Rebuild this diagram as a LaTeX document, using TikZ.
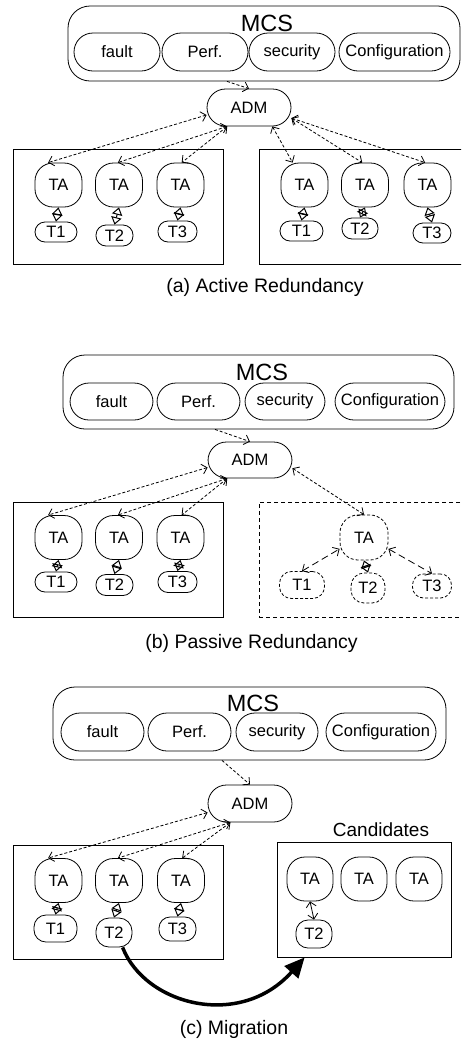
\documentclass[tikz,border=0pt]{standalone}
\usepackage{fontspec}
\setmainfont{Liberation Sans}
\usetikzlibrary{arrows.meta}
\begin{document}
\begin{tikzpicture}[x=1pt,y=-1pt,
  every node/.style={inner sep=0pt, font=\fontsize{16.5}{19}\selectfont},
  cbox/.style={draw, line width=0.8pt},
  mcsbox/.style={draw, line width=0.8pt, rounded corners=22pt},
  mcsfont/.style={font=\fontsize{23.5}{26}\selectfont},
  func/.style={draw, line width=0.8pt, rounded corners=19pt, minimum height=38pt},
  admbox/.style={draw, line width=0.8pt, rounded corners=18.5pt, minimum width=84pt, minimum height=37pt},
  tanode/.style={draw, line width=0.8pt, rounded corners=18pt, minimum width=47pt, minimum height=44pt},
  tknode/.style={draw, line width=0.8pt, rounded corners=10pt},
  dnode/.style={dash pattern=on 3pt off 2pt},
  vtip/.tip={Straight Barb[length=5pt,width=10pt]},
  link/.style={line width=0.8pt, dash pattern=on 3pt off 2pt, vtip-vtip},
  longlink/.style={line width=0.8pt, dash pattern=on 7pt off 4pt, vtip-vtip},
  toadm/.style={line width=0.8pt, dash pattern=on 3pt off 2pt, -vtip},
  dia/.style={line width=1pt, {Triangle[open,length=7.5pt,width=10.5pt]}-{Triangle[open,length=7.5pt,width=10.5pt]}},
  captext/.style={font=\fontsize{19.5}{22}\selectfont}
]
\clip (0,0) rectangle (461,1042);
\fill[white] (0,0) rectangle (461,1042);

% ================= (a) Active Redundancy =================
\node[mcsbox, minimum width=392pt, minimum height=75pt] (mcsA) at (264,43.5) {};
\node[mcsfont] (mcsAt) at (267,23) {MCS};
\node[func, minimum width=86pt] (faultA) at (117,52) {fault};
\node[func, minimum width=86pt] (perfA) at (205,52) {Perf.};
\node[func, minimum width=86pt] (secA) at (292,52) {security};
\node[func, minimum width=111pt] (confA) at (394.5,52) {Configuration};
\node[admbox] (admA) at (249,107.5) {ADM};

\node[cbox, minimum width=210pt, minimum height=115pt] (boxA1) at (118,206.5) {};
\node[cbox, minimum width=211pt, minimum height=115pt] (boxA2) at (364.5,206.5) {};

\node[tanode] (taA1) at (58.5,185) {TA};
\node[tanode] (taA2) at (119,185) {TA};
\node[tanode] (taA3) at (180.5,185) {TA};
\node[tanode] (taA4) at (304.5,185) {TA};
\node[tanode] (taA5) at (365,185) {TA};
\node[tanode] (taA6) at (427.5,185) {TA};

\node[tknode, minimum width=42pt, minimum height=20pt] (tA1) at (56,232) {T1};
\node[tknode, minimum width=37pt, minimum height=21pt] (tA2) at (114.5,235.5) {T2};
\node[tknode, minimum width=39pt, minimum height=21pt] (tA3) at (177.5,231.5) {T3};
\node[tknode, minimum width=43pt, minimum height=20pt] (tA4) at (301.5,231) {T1};
\node[tknode, minimum width=36pt, minimum height=21pt] (tA5) at (360,228.5) {T2};
\node[tknode, minimum width=38pt, minimum height=20pt] (tA6) at (432,233) {T3};

\draw[toadm] ([xshift=-37pt]mcsA.south) -- (admA.north);
\draw[link] (admA.190) -- (taA1.115);
\draw[link] (admA.221) -- (taA2.93);
\draw[link] (admA.221) -- (taA3.87);
\draw[link] (admA.321) -- (taA4.118);
\draw[link] (admA.346) -- (taA5.97);
\draw[link] (admA.346) -- (taA6.96);

\draw[dia] (taA1.south) -- (tA1.north);
\draw[dia] (taA2.south) -- (tA2.north);
\draw[dia] (taA3.south) -- (tA3.north);
\draw[dia] (taA4.south) -- (tA4.north);
\draw[dia] (taA5.south) -- (tA5.north);
\draw[dia] (taA6.south) -- (tA6.north);

\node[captext] (capA) at (265,287) {(a) Active Redundancy};

% ================= (b) Passive Redundancy =================
\node[mcsbox, minimum width=391pt, minimum height=74pt] (mcsB) at (258.5,392) {};
\node[mcsfont] (mcsBt) at (262,372) {MCS};
\node[func, minimum width=83pt, minimum height=37pt] (faultB) at (111.5,401.5) {fault};
\node[func, minimum width=83pt, minimum height=37pt] (perfB) at (198.5,401.5) {Perf.};
\node[func, minimum width=80pt, minimum height=37pt] (secB) at (285,401.5) {security};
\node[func, minimum width=110pt, minimum height=37pt] (confB) at (390,401.5) {Configuration};
\node[admbox, minimum height=36pt] (admB) at (250,460) {ADM};

\node[cbox, minimum width=210pt, minimum height=115pt] (boxB1) at (118,559.5) {};
\node[cbox, dash pattern=on 4pt off 3pt, minimum width=211pt, minimum height=115pt] (boxB2) at (364.5,559.5) {};

\node[tanode] (taB1) at (58.5,537.5) {TA};
\node[tanode] (taB2) at (119,537.5) {TA};
\node[tanode] (taB3) at (180.5,537.5) {TA};
\node[tknode, minimum width=42pt, minimum height=20pt] (tB1) at (56,582) {T1};
\node[tknode, minimum width=37pt, minimum height=21pt] (tB2) at (114.5,585) {T2};
\node[tknode, minimum width=39pt, minimum height=21pt] (tB3) at (177.5,582) {T3};

\node[tanode, dnode, minimum width=48pt, minimum height=45pt] (pta) at (364,537.5) {TA};
\node[tknode, dnode, rounded corners=12pt, minimum width=45pt, minimum height=27pt] (pt1) at (302,585) {T1};
\node[tknode, dnode, rounded corners=13pt, minimum width=34pt, minimum height=30pt] (pt2) at (368,588) {T2};
\node[tknode, dnode, rounded corners=11pt, minimum width=39pt, minimum height=24pt] (pt3) at (432,586) {T3};

\draw[toadm] ([xshift=-43.5pt]mcsB.south) -- (admB.north);
\draw[link] (admB.190) -- (taB1.115);
\draw[link] (admB.219) -- (taB2.93);
\draw[link] (admB.219) -- (taB3.87);
\draw[link] (admB.349) -- (pta.north);

\draw[dia] (taB1.south) -- (tB1.north);
\draw[dia] (taB2.south) -- (tB2.north);
\draw[dia] (taB3.south) -- (tB3.north);
\draw[dia] (pta.south) -- (pt2.north);
\draw[longlink] (pt1.north) -- (pta.205);
\draw[longlink] (pta.335) -- (pt3.north);

\node[captext] (capB) at (251.5,643) {(b) Passive Redundancy};

% ================= (c) Migration =================
\node[mcsbox, minimum width=393pt, minimum height=73pt] (mcsC) at (249.5,723.5) {};
\node[mcsfont] (mcsCt) at (253,703) {MCS};
\node[func, minimum width=83pt] (faultC) at (102.5,732) {fault};
\node[func, minimum width=83pt] (perfC) at (189.5,732) {Perf.};
\node[func, minimum width=82pt] (secC) at (277,732) {security};
\node[func, minimum width=110pt] (confC) at (381,732) {Configuration};
\node[admbox] (admC) at (250,803.5) {ADM};

\node[cbox, minimum width=210pt, minimum height=114pt] (boxC1) at (118,902) {};
\node[cbox, minimum width=174pt, minimum height=115pt] (cand) at (364,899.5) {};
\node[font=\fontsize{19}{22}\selectfont] (candt) at (381,830) {Candidates};

\node[tanode] (taC1) at (58.5,880.5) {TA};
\node[tanode] (taC2) at (119,880.5) {TA};
\node[tanode] (taC3) at (181,880.5) {TA};
\node[tknode, rounded corners=12pt, minimum width=43pt, minimum height=27pt] (tC1) at (55.5,928.5) {T1};
\node[tknode, rounded corners=13pt, minimum width=36pt, minimum height=29pt] (tC2) at (114,932.5) {T2};
\node[tknode, rounded corners=11pt, minimum width=37pt, minimum height=24pt] (tC3) at (177.5,929) {T3};

\node[tanode, minimum width=46pt] (taR1) at (310,879) {TA};
\node[tanode, minimum width=46pt] (taR2) at (364,879) {TA};
\node[tanode, minimum width=46pt] (taR3) at (419,879) {TA};
\node[tknode, rounded corners=12pt, minimum width=36pt, minimum height=28pt] (tR) at (314,934) {T2};

\draw[toadm] ([xshift=-27.5pt]mcsC.south) -- (admC.north);
\draw[link] (admC.192) -- (taC1.115);
\draw[link] (admC.224) -- (taC2.93);
\draw[link] (admC.224) -- (taC3.87);

\draw[dia] (taC1.south) -- (tC1.north);
\draw[dia] (taC2.south) -- (tC2.north);
\draw[dia] (taC3.south) -- (tC3.north);
\draw[line width=0.8pt, vtip-vtip] (taR1.south) -- (tR.north);

\draw[line width=3.5pt, -{Triangle[length=20pt,width=18pt]}]
  (tC2.300) .. controls (145,1005) and (240,1030) .. ([xshift=28pt]cand.south west);

\node[captext] (capC) at (234,1029) {(c) Migration};
\end{tikzpicture}
\end{document}
